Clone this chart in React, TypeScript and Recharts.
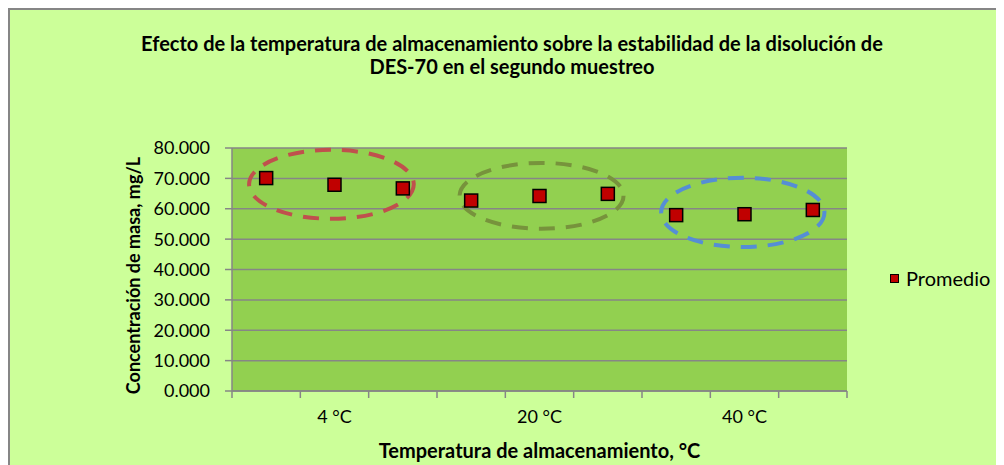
import React from "react";
import {
    ComposedChart,
    Scatter,
    XAxis,
    YAxis,
    CartesianGrid,
    ReferenceArea,
    Legend,
    Label,
} from "recharts";

// Storage temperatures, each covering three sample slots on the x axis
const temperatures = ["4 °C", "20 °C", "40 °C"];
const temperatureCenters = [2, 5, 8];

// Mean mass concentration (mg/L) for each sample, in slot order
const slots = [1, 2, 3, 4, 5, 6, 7, 8, 9];
const promedio = [70.1, 67.9, 66.7, 62.7, 64.2, 64.9, 57.9, 58.2, 59.6];

const yTicks = [0, 10, 20, 30, 40, 50, 60, 70, 80];
const slotEdges = [0.5, 1.5, 2.5, 3.5, 4.5, 5.5, 6.5, 7.5, 8.5, 9.5];

// Dashed ellipses grouping the samples of each temperature
const groupBounds = [
    { x1: 0.75, x2: 3.16, y1: 56.7, y2: 79.4, color: "#C0504D" },
    { x1: 3.83, x2: 6.23, y1: 53.4, y2: 75.1, color: "#77933C" },
    { x1: 6.78, x2: 9.17, y1: 47.4, y2: 70.2, color: "#558ED5" },
];

const data = slots.map((slot, i) => ({ slot, promedio: promedio[i] }));

const FONT = "Lato, 'Open Sans', sans-serif";
const GRID = "#868686";

const SquareMarker = (props: any) => {
    const { cx, cy } = props;
    if (cx == null || cy == null) return null;
    return <rect x={cx - 6.5} y={cy - 6.5} width={13} height={13} fill="#C00000" stroke="#000" strokeWidth={1.5} />;
};

const XTick = (props: any) => {
    const { x, y, payload } = props;
    const idx = temperatureCenters.indexOf(payload.value);
    if (idx >= 0) {
        return (
            <text x={x} y={y + 18} textAnchor="middle" dominantBaseline="central" fontFamily={FONT} fontSize={18} fill="#000">
                {temperatures[idx]}
            </text>
        );
    }
    return <line x1={x} x2={x} y1={y - 7} y2={y} stroke={GRID} strokeWidth={1.5} />;
};

const EllipseShape = (color: string) => (props: any) => {
    const { x, y, width, height } = props;
    return (
        <ellipse
            cx={x + width / 2}
            cy={y + height / 2}
            rx={width / 2}
            ry={height / 2}
            fill="none"
            stroke={color}
            strokeWidth={4}
            strokeDasharray="16 11"
        />
    );
};

const LegendContent = () => (
    <div style={{ display: "flex", alignItems: "center", fontFamily: FONT, fontSize: 20, color: "#000" }}>
        <span style={{ display: "inline-block", width: 7, height: 7, background: "#C00000", border: "1.5px solid #000", marginRight: 7 }} />
        Promedio
    </div>
);

export default function App() {
    return (
        <div
            style={{
                width: 996,
                height: 457,
                boxSizing: "border-box",
                background: "#CCFF99",
                borderTop: `2px solid ${GRID}`,
                borderLeft: `2px solid ${GRID}`,
                position: "relative",
                overflow: "hidden",
            }}
        >
            <div
                style={{
                    position: "absolute",
                    left: 0,
                    top: 22,
                    width: 1004,
                    textAlign: "center",
                    fontFamily: FONT,
                    fontWeight: 700,
                    fontSize: 20,
                    lineHeight: "23px",
                    color: "#000",
                }}
            >
                Efecto de la temperatura de almacenamiento sobre la estabilidad de la disolución de
                <br />
                DES-70 en el segundo muestreo
            </div>
            <ComposedChart width={994} height={455} data={data} margin={{ top: 138, right: 157, bottom: 44, left: 142 }}>
                <CartesianGrid horizontal vertical={false} fill="#92D050" stroke={GRID} strokeWidth={1.5} />
                <XAxis
                    dataKey="slot"
                    type="number"
                    domain={[0.5, 9.5]}
                    ticks={[...slotEdges, ...temperatureCenters].sort((a, b) => a - b)}
                    interval={0}
                    tick={<XTick />}
                    tickLine={false}
                    tickSize={7}
                    tickMargin={0}
                    axisLine={{ stroke: GRID, strokeWidth: 1.5 }}
                    height={30}
                >
                    <Label
                        content={(p: any) => {
                            const vb = p.viewBox;
                            return (
                                <text x={vb.x + vb.width / 2} y={vb.y + 59} textAnchor="middle" dominantBaseline="central" fontFamily={FONT} fontWeight={700} fontSize={20} fill="#000">
                                    Temperatura de almacenamiento, °C
                                </text>
                            );
                        }}
                    />
                </XAxis>
                <YAxis
                    type="number"
                    domain={[0, 80]}
                    ticks={yTicks}
                    interval={0}
                    tickFormatter={(v: number) => v.toFixed(3)}
                    tick={{ fontFamily: FONT, fontSize: 18, fill: "#000" }}
                    tickSize={7}
                    tickMargin={15}
                    tickLine={{ stroke: GRID, strokeWidth: 1.5 }}
                    axisLine={{ stroke: GRID, strokeWidth: 1.5 }}
                    width={80}
                >
                    <Label
                        content={(p: any) => {
                            const vb = p.viewBox;
                            const cx = vb.x - 19;
                            const cy = vb.y + vb.height / 2 + 6;
                            return (
                                <text x={cx} y={cy} transform={`rotate(-90 ${cx} ${cy})`} textAnchor="middle" dominantBaseline="central" fontFamily={FONT} fontWeight={700} fontSize={18} fill="#000">
                                    Concentración de masa, mg/L
                                </text>
                            );
                        }}
                    />
                </YAxis>
                {groupBounds.map((g, i) => (
                    <ReferenceArea
                        key={i}
                        x1={g.x1}
                        x2={g.x2}
                        y1={g.y1}
                        y2={g.y2}
                        ifOverflow="visible"
                        shape={EllipseShape(g.color)}
                    />
                ))}
                <Scatter name="Promedio" dataKey="promedio" shape={<SquareMarker />} isAnimationActive={false} legendType="square" />
                <Legend
                    layout="horizontal"
                    align="center"
                    verticalAlign="middle"
                    content={<LegendContent />}
                    wrapperStyle={{ left: 880, top: 256, width: "auto" }}
                />
            </ComposedChart>
        </div>
    );
}
